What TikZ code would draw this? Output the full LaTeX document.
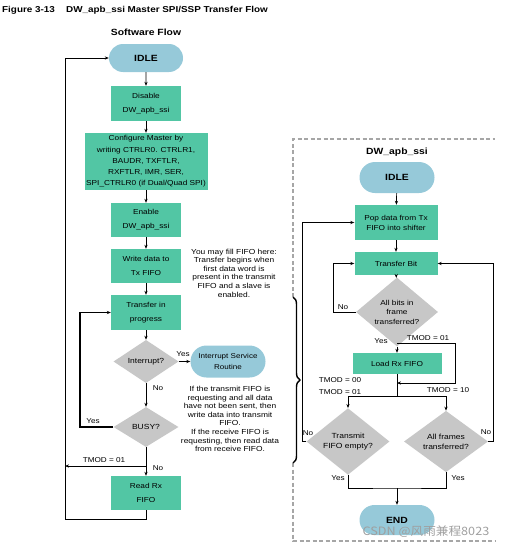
\documentclass[tikz,border=0pt]{standalone}
\usepackage{fontspec}
\setmainfont[FakeStretch=1.15]{Liberation Sans}
\newfontfamily\cjkfont[FakeStretch=1.1]{Noto Sans CJK SC}
\usetikzlibrary{arrows.meta,shapes.geometric,shapes.misc,decorations.pathreplacing}
\definecolor{boxgreen}{RGB}{82,198,164}
\definecolor{termblue}{RGB}{150,201,217}
\definecolor{decgray}{RGB}{199,199,199}
\begin{document}
\begin{tikzpicture}[x=1pt,y=-1pt,
  >={Stealth[length=4pt,width=3.2pt]},
  flow/.style={line width=0.7pt},
  stepbox/.style={fill=boxgreen,inner sep=1pt,align=center,font=\fontsize{7.2}{14}\selectfont},
  term/.style={rounded rectangle,fill=termblue,inner sep=1pt,align=center},
  decide/.style={diamond,fill=decgray,inner sep=0pt,align=center,font=\fontsize{7.4}{10}\selectfont},
  note/.style={align=center,font=\fontsize{7.3}{8.6}\selectfont},
  tag/.style={font=\fontsize{7.1}{8}\selectfont,inner sep=0pt}]
  \useasboundingbox (0,0) rectangle (507,549);

  % titles
  \node[anchor=west,font=\bfseries\fontsize{8.6}{10}\selectfont,inner sep=0pt] (figno) at (2,10) {Figure 3-13};
  \node[anchor=west,font=\bfseries\fontsize{8.6}{10}\selectfont,inner sep=0pt] (figtitle) at (66,10) {DW\_apb\_ssi Master SPI/SSP Transfer Flow};
  \node[font=\bfseries\fontsize{9}{10}\selectfont] (swtitle) at (146,32) {Software Flow};

  % software flow
  \node[term,minimum width=76pt,minimum height=28pt,font=\bfseries\fontsize{9}{10}\selectfont] (idleA) at (146,58) {IDLE};
  \node[stepbox,minimum width=70pt,minimum height=35pt] (disable) at (146,103.5) {Disable\\DW\_apb\_ssi};
  \node[stepbox,minimum width=123pt,minimum height=57pt,font=\fontsize{7.2}{11.2}\selectfont] (config) at (146,161.5)
    {Configure Master by\\writing CTRLR0. CTRLR1,\\BAUDR, TXFTLR,\\RXFTLR, IMR, SER,\\SPI\_CTRLR0 (if Dual/Quad SPI)};
  \node[stepbox,minimum width=70pt,minimum height=34pt] (enable) at (146,220) {Enable\\DW\_apb\_ssi};
  \node[stepbox,minimum width=70pt,minimum height=34pt] (writetx) at (146,266) {Write data to\\Tx FIFO};
  \node[stepbox,minimum width=70pt,minimum height=35pt] (xfer) at (146,312.5) {Transfer in\\progress};
  \node[decide,minimum width=65pt,minimum height=41pt] (intr) at (146,361.5) {Interrupt?};
  \node[term,minimum width=77pt,minimum height=32pt,font=\fontsize{7}{11}\selectfont] (isr) at (228,361.5) {Interrupt Service\\Routine};
  \node[decide,minimum width=65pt,minimum height=40pt] (busy) at (146,427) {BUSY?};
  \node[stepbox,minimum width=70pt,minimum height=34pt] (readrx) at (146,493) {Read Rx\\FIFO};

  \node[note] (fillnote) at (234,273) {You may fill FIFO here:\\Transfer begins when\\first data word is\\present in the transmit\\FIFO and a slave is\\enabled.};
  \node[note] (isrnote) at (230,419) {If the transmit FIFO is\\requesting and all data\\have not been sent, then\\write data into transmit\\FIFO.\\If the receive FIFO is\\requesting, then read data\\from receive FIFO.};

  \coordinate (busyloop) at (80,427);
  \coordinate (tmodL) at (65,466);
  \coordinate (outerB) at (65,519);

  \draw[flow,->] (idleA) -- (disable);
  \draw[flow,->] (disable) -- (config);
  \draw[flow,->] (config) -- (enable);
  \draw[flow,->] (enable) -- (writetx);
  \draw[flow,->] (writetx) -- (xfer);
  \draw[flow,->] (xfer) -- (intr);
  \draw[flow,->] (intr) -- (isr);
  \draw[flow,->] (intr) -- (busy);
  \draw[flow,->] (busy) -- (readrx);
  \draw[line width=1.3pt,->] (busy.west) -- (busyloop) |- (xfer.west);
  \draw[flow,->] (busy.south |- tmodL) -- (tmodL);
  \draw[flow,->] (readrx.south) |- (outerB) |- (idleA.west);

  \node[tag] (yesA) at (183,354) {Yes};
  \node[tag] (noA) at (158,388) {No};
  \node[tag] (yesB) at (93,421) {Yes};
  \node[tag] (tmodA) at (104,460) {TMOD = 01};
  \node[tag] (noB) at (158,468) {No};

  % hardware side
  \draw[gray!70,line width=1.1pt,dash pattern=on 4pt off 2.5pt] (293,297) -- (293,139) -- (495,139);
  \draw[gray!70,line width=1.1pt,dash pattern=on 4pt off 2.5pt] (293,463) -- (293,541) -- (495,541);
  \draw[line width=1.4pt,decorate,decoration={brace,amplitude=7pt}] (293,297) -- (293,463);
  \node[font=\bfseries\fontsize{9}{10}\selectfont] (hwtitle) at (397,152) {DW\_apb\_ssi};

  \node[term,minimum width=77pt,minimum height=31pt,font=\bfseries\fontsize{9}{10}\selectfont] (idleB) at (397,177.5) {IDLE};
  \node[stepbox,minimum width=83pt,minimum height=35pt,font=\fontsize{7.2}{10}\selectfont] (pop) at (396,222.5) {Pop data from Tx\\FIFO into shifter};
  \node[stepbox,minimum width=83pt,minimum height=23pt] (tbit) at (396,263.5) {Transfer Bit};
  \node[decide,minimum width=82pt,minimum height=55pt,font=\fontsize{7.2}{9.5}\selectfont] (allbits) at (397,312) {All bits in\\frame\\transferred?};
  \node[stepbox,minimum width=89pt,minimum height=21pt] (loadrx) at (397,363.5) {Load Rx FIFO};
  \node[decide,minimum width=83pt,minimum height=53pt] (txempty) at (348,441.5) {Transmit\\FIFO empty?};
  \node[decide,minimum width=84pt,minimum height=53pt] (allframes) at (446,441.5) {All frames\\transferred?};
  \node[term,minimum width=77pt,minimum height=30pt,font=\bfseries\fontsize{9}{10}\selectfont] (endB) at (397,520) {END};

  \coordinate (nobits) at (333,312);
  \coordinate (bypassT) at (455,343.5);
  \coordinate (bypassB) at (455,383);
  \coordinate (split) at (397,396);
  \coordinate (noempty) at (302,441.5);
  \coordinate (noframes) at (493,441.5);
  \coordinate (join) at (397,488);

  \draw[flow,->] (idleB) -- (pop);
  \draw[flow,->] (pop) -- (tbit);
  \draw[flow,->] (tbit) -- (allbits);
  \draw[flow,->] (allbits.west) -- (nobits) |- (tbit.west);
  \draw[flow,->] (allbits) -- (loadrx);
  \draw[flow,->] (allbits.south |- bypassT) -- (bypassT) -- (bypassB) -- (loadrx.south |- bypassB);
  \draw[flow] (loadrx.south) -- (split);
  \draw[flow,->] (split) -| (txempty.north);
  \draw[flow,->] (split) -| (allframes.north);
  \draw[flow,->] (txempty.west) -- (noempty) |- (pop.west);
  \draw[flow,->] (allframes.east) -- (noframes) |- (tbit.east);
  \draw[flow] (txempty.south) |- (join) -| (allframes.south);
  \draw[flow,->] (join) -- (endB);

  \node[tag] (nobitsT) at (343,307) {No};
  \node[tag] (yesbitsT) at (381,341) {Yes};
  \node[tag] (tmodB) at (428,338) {TMOD = 01};
  \node[tag] (tmodC) at (340,380) {TMOD = 00};
  \node[tag] (tmodD) at (340,392) {TMOD = 01};
  \node[tag] (tmodE) at (448,390) {TMOD = 10};
  \node[tag] (noemptyT) at (308,433) {No};
  \node[tag] (noframesT) at (486,432) {No};
  \node[tag] (yesemptyT) at (338,478) {Yes};
  \node[tag] (yesframesT) at (458,478) {Yes};

  \node[font=\cjkfont\fontsize{11.5}{12}\selectfont,text=gray!75,inner sep=0pt] (mark) at (426,532) {CSDN @风雨兼程8023};
\end{tikzpicture}
\end{document}
